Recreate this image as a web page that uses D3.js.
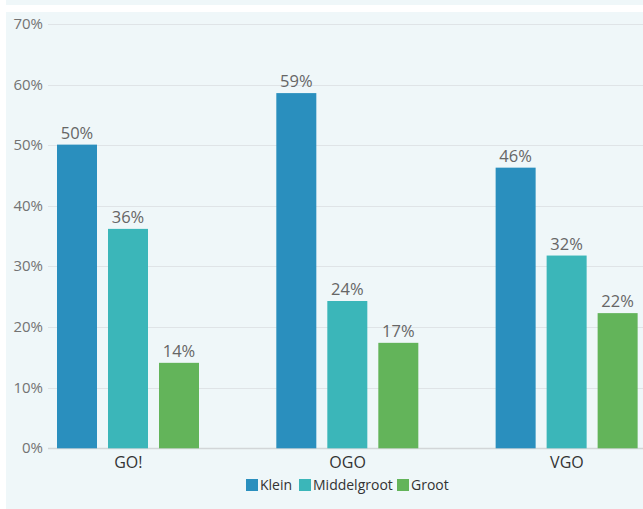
<!DOCTYPE html>
<html>
<head>
<meta charset="utf-8">
<script src="https://cdn.jsdelivr.net/npm/d3@7"></script>
<style>
  html, body { margin: 0; padding: 0; background: #ffffff; }
  svg { display: block; }
  text { font-family: "Open Sans", "Noto Sans", sans-serif; }
</style>
</head>
<body>
<svg id="chart" width="643" height="509"></svg>
<script>
const categories = ["GO!", "OGO", "VGO"];
const seriesNames = ["Klein", "Middelgroot", "Groot"];
const klein = [50.1, 58.6, 46.3];
const middelgroot = [36.2, 24.3, 31.8];
const groot = [14.1, 17.4, 22.3];
const valueLabels = [["50%", "36%", "14%"], ["59%", "24%", "17%"], ["46%", "32%", "22%"]];
const yTicks = [0, 10, 20, 30, 40, 50, 60, 70];
const colors = ["#2a8fbe", "#3bb6b9", "#63b45a"];

const seriesValues = [klein, middelgroot, groot];
const W = 643, H = 509;
const svg = d3.select("#chart");

// panel background
svg.append("rect").attr("x", 6).attr("y", 0).attr("width", W - 6).attr("height", 5).attr("fill", "#eff7f9");
svg.append("rect").attr("x", 6).attr("y", 12).attr("width", W - 6).attr("height", H - 12).attr("fill", "#eff7f9");

const plotLeft = 48, plotRight = 643;
const y = d3.scaleLinear().domain([0, 70]).range([448.3, 24]);

const x0 = d3.scaleBand().domain(categories).range([18.35, 676.3]).paddingInner(0).paddingOuter(0);
const x1 = d3.scaleBand().domain(seriesNames).range([38.65, 180.65]).paddingInner(11 / 51).paddingOuter(0);

// grid
const grid = svg.append("g");
grid.selectAll("line").data(yTicks).join("line")
  .attr("x1", plotLeft).attr("x2", plotRight)
  .attr("y1", d => Math.round(y(d)) + 0.5).attr("y2", d => Math.round(y(d)) + 0.5)
  .attr("stroke", d => d === 0 ? "#d2d6d8" : "#dfe4e7").attr("stroke-width", d => d === 0 ? 1.5 : 1);

// y axis labels
svg.append("g").selectAll("text").data(yTicks).join("text")
  .attr("x", 43).attr("y", d => y(d) + 5)
  .attr("text-anchor", "end")
  .attr("font-size", 15).attr("fill", "#737373")
  .text(d => d + "%");

// bars
const groups = svg.append("g").selectAll("g").data(categories).join("g")
  .attr("transform", d => `translate(${x0(d)},0)`);

groups.each(function(cat, ci) {
  const g = d3.select(this);
  seriesNames.forEach((s, si) => {
    const v = seriesValues[si][ci];
    g.append("rect")
      .attr("x", x1(s)).attr("width", x1.bandwidth())
      .attr("y", y(v)).attr("height", y(0) - y(v))
      .attr("fill", colors[si]);
    g.append("text")
      .attr("x", x1(s) + x1.bandwidth() / 2).attr("y", y(v) - 6)
      .attr("text-anchor", "middle")
      .attr("font-size", 16.5).attr("fill", "#666666")
      .text(valueLabels[ci][si]);
  });
  g.append("text")
    .attr("x", x0.bandwidth() / 2 + 0.3).attr("y", 468)
    .attr("text-anchor", "middle")
    .attr("font-size", 16).attr("fill", "#333333")
    .text(cat);
});

// legend
const legendX = [246, 299, 397];
const legend = svg.append("g").selectAll("g").data(seriesNames).join("g")
  .attr("transform", (d, i) => `translate(${legendX[i]},479)`);
legend.append("rect").attr("width", 12).attr("height", 12).attr("fill", (d, i) => colors[i]);
legend.append("text").attr("x", 14).attr("y", 11).attr("font-size", 14).attr("fill", "#333333").text(d => d);
</script>
</body>
</html>
